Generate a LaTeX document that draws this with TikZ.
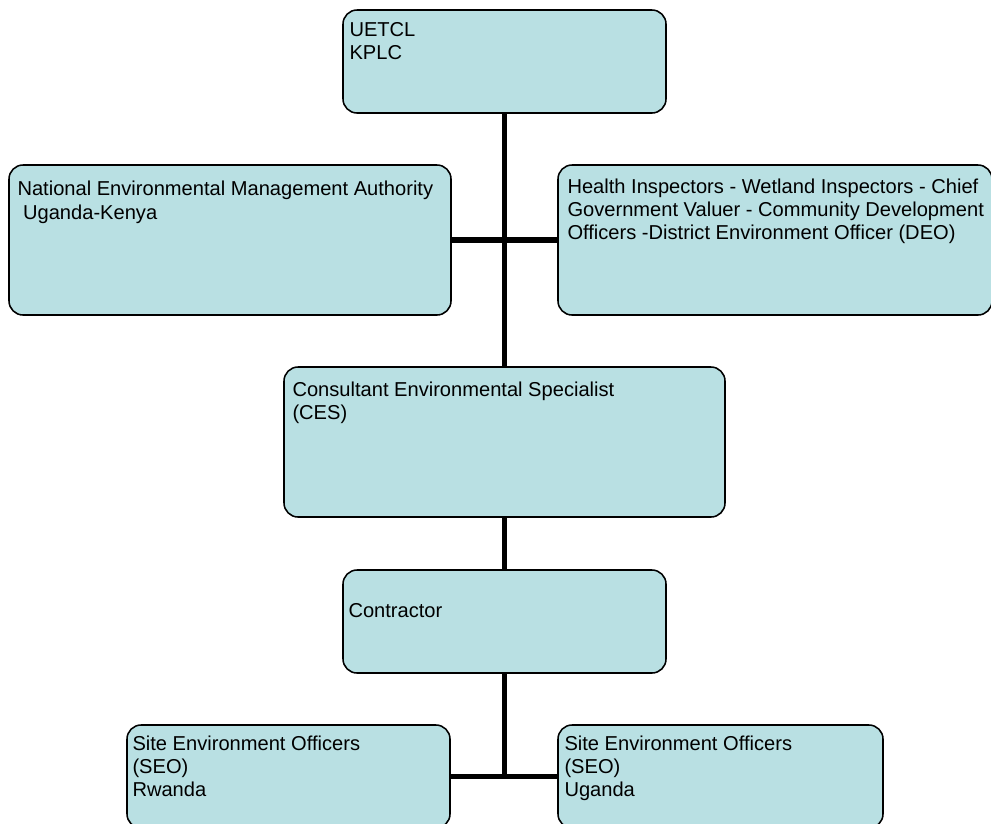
\documentclass[tikz,border=0pt]{standalone}
\usepackage{fontspec}
\setmainfont{Liberation Sans}
\usetikzlibrary{calc}
\definecolor{boxfill}{HTML}{B9E0E3}

\begin{document}
\begin{tikzpicture}[
  box/.style={draw=black, fill=boxfill, line width=1.1pt, rounded corners=10pt, inner sep=0pt},
  boxtext/.style={anchor=north west, inner sep=0pt, align=left, font=\fontsize{14.3}{16.5}\selectfont},
  link/.style={line width=3.6pt, draw=black}
]
\useasboundingbox (0,0) rectangle (24.775,-20.575);

% boxes
\node[box, minimum width=8.075cm, minimum height=2.575cm] (uetcl) at (12.6125,-1.5375) {};
\node[box, minimum width=11.05cm, minimum height=3.75cm] (nema) at (5.75,-6.0) {};
\node[box, minimum width=10.85cm, minimum height=3.75cm] (inspectors) at (19.375,-6.0) {};
\node[box, minimum width=11.025cm, minimum height=3.75cm] (ces) at (12.6125,-11.05) {};
\node[box, minimum width=8.075cm, minimum height=2.575cm] (contractor) at (12.6125,-15.5375) {};
\node[box, minimum width=8.075cm, minimum height=2.575cm] (seorwanda) at (7.2125,-19.4125) {};
\node[box, minimum width=8.125cm, minimum height=2.575cm] (seouganda) at (18.0125,-19.4125) {};

% texts
\node[boxtext] (uetcltext) at ($(uetcl.north west)+(0.175,-0.325)$) {UETCL\\KPLC};
\node[boxtext] (nematext) at ($(nema.north west)+(0.225,-0.42)$) {National Environmental Management Authority\\\hspace*{0.278em}Uganda-Kenya};
\node[boxtext] (inspectorstext) at ($(inspectors.north west)+(0.25,-0.35)$) {Health Inspectors - Wetland Inspectors - Chief\\Government Valuer - Community Development\\Officers -District Environment Officer (DEO)};
\node[boxtext] (cestext) at ($(ces.north west)+(0.225,-0.375)$) {Consultant Environmental Specialist\\(CES)};
\node[boxtext] (contractortext) at ($(contractor.north west)+(0.15,-0.85)$) {Contractor};
\node[boxtext] (seorwandatext) at ($(seorwanda.north west)+(0.15,-0.275)$) {Site Environment Officers\\(SEO)\\Rwanda};
\node[boxtext] (seougandatext) at ($(seouganda.north west)+(0.175,-0.275)$) {Site Environment Officers\\(SEO)\\Uganda};

% connectors
\draw[link] (uetcl.south) -- (ces.north);
\draw[link] (nema.east) -- (inspectors.west);
\draw[link] (ces.south) -- (contractor.north);
\draw[link] (contractor.south) -- (contractor.south |- seorwanda.east);
\draw[link] (seorwanda.east) -- (seouganda.west);
\end{tikzpicture}
\end{document}
